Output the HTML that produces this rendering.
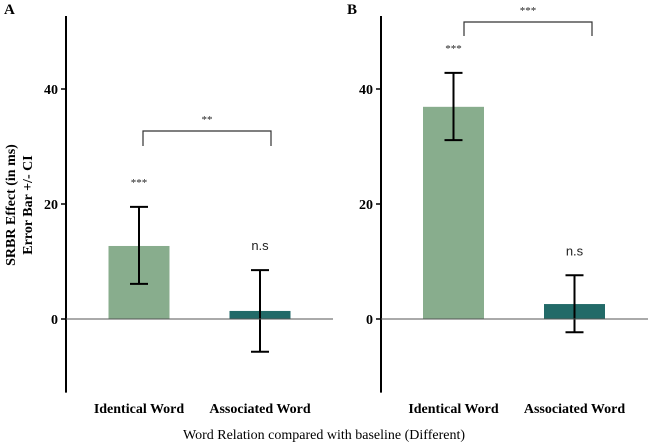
<!DOCTYPE html>
<html><head><meta charset="utf-8"><style>
body{margin:0;background:#fff;}
svg text{font-family:"Liberation Serif",serif;}
</style></head><body>
<svg id="c" width="648" height="442" xmlns="http://www.w3.org/2000/svg">
<text x="4" y="14" font-weight="bold" font-size="15">A</text>
<text x="347" y="14" font-weight="bold" font-size="15">B</text>
<g transform="rotate(-90)">
<text x="-205" y="15" text-anchor="middle" font-weight="bold" font-size="14">SRBR Effect (in ms)</text>
<text x="-205" y="32" text-anchor="middle" font-weight="bold" font-size="14">Error Bar +/- CI</text>
</g>
<text x="324" y="439" text-anchor="middle" font-size="14">Word Relation compared with baseline (Different)</text>
</svg>
<script>
const categories=["Identical Word","Associated Word"];
const panelA=[12.7,1.4], panelALow=[6.1,-5.7], panelAHigh=[19.5,8.5];
const panelB=[36.9,2.6], panelBLow=[31.1,-2.3], panelBHigh=[42.8,7.6];
const sigLabels=[["***","n.s"],["***","n.s"]];
const bracketLabels=["**","***"];
const yTicks=[0,20,40];
const colors=["#88ad8d","#226a68"];
const svg=document.getElementById('c');
const NS="http://www.w3.org/2000/svg";
function y(v){return 319-v*5.75;}
function mk(tag,attrs){const e=document.createElementNS(NS,tag);for(const k in attrs)e.setAttribute(k,attrs[k]);svg.appendChild(e);return e;}
const panels=[
 {ax:66,end:333,cx:[139,260],vals:panelA,lo:panelALow,hi:panelAHigh,by:131,bd:15,bl:143,br:271,name:'a'},
 {ax:381,end:648,cx:[453.5,574.5],vals:panelB,lo:panelBLow,hi:panelBHigh,by:22,bd:14,bl:464,br:592,name:'b'}];
panels.forEach((p,pi)=>{
 let e=mk('line',{x1:p.ax,x2:p.ax,y1:y(52.7),y2:y(-12.8),stroke:'#000','stroke-width':2});
 
 
 yTicks.forEach(t=>{
  e=mk('line',{x1:p.ax-5,x2:p.ax,y1:y(t),y2:y(t),stroke:'#000','stroke-width':1.5});
  
  
  e=mk('text',{x:p.ax-8,y:y(t)+5,'text-anchor':'end','font-weight':'bold','font-size':14});
  e.textContent=t;
  
  
 });
 p.vals.forEach((v,i)=>{
  const cx=p.cx[i];
  e=mk('rect',{x:cx-30.5,width:61,y:Math.min(y(v),y(0)),height:Math.abs(y(v)-y(0)),fill:colors[i]});
  
  
  const hy=y(p.hi[i]),ly=y(p.lo[i]);
  e=mk('path',{d:`M${cx},${hy}V${ly}M${cx-9},${hy}H${cx+9}M${cx-9},${ly}H${cx+9}`,stroke:'#000','stroke-width':2,fill:'none'});
  
  
  const s=sigLabels[pi][i];
  if(s==='n.s'){e=mk('text',{x:cx,y:hy-20,'text-anchor':'middle','font-size':13,style:'font-family:"Liberation Sans",sans-serif',fill:'#222'});}
  else{e=mk('text',{x:cx,y:hy-21,'text-anchor':'middle','font-size':11,fill:'#222'});}
  e.textContent=s;
  
  
  e=mk('text',{x:cx,y:413,'text-anchor':'middle','font-weight':'bold','font-size':14});
  e.textContent=categories[i];
  
  
 });
 e=mk('line',{x1:p.ax,x2:p.end,y1:y(0),y2:y(0),stroke:'#555','stroke-width':1});
 
 
 e=mk('path',{d:`M${p.bl},${p.by+p.bd}V${p.by}H${p.br}V${p.by+p.bd}`,stroke:'#333','stroke-width':1.2,fill:'none'});
 
 
 e=mk('text',{x:(p.bl+p.br)/2,y:p.by-8,'text-anchor':'middle','font-size':11,fill:'#222'});
 e.textContent=bracketLabels[pi];
 
 
});
</script>
</body></html>
